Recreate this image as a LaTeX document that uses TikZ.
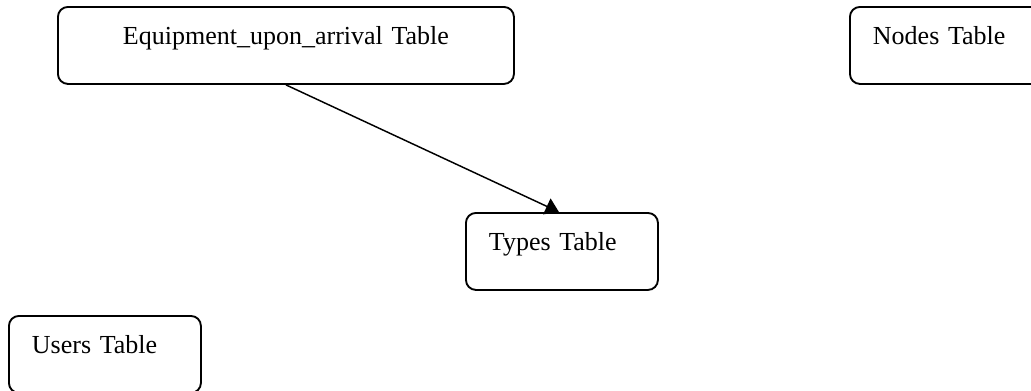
\documentclass[tikz,border=0pt]{standalone}
\usepackage{fontspec}
\setmainfont{Liberation Serif}
\usetikzlibrary{arrows.meta,positioning}

\tikzset{
	tablebox/.style={draw, rounded corners=7.5pt, line width=1.4pt, anchor=north west,
		inner xsep=17.25pt, inner ysep=0pt, text width=#1, align=left,
		text height=28.5pt, text depth=29.25pt, font=\fontsize{19.5pt}{23pt}\selectfont},
	verweis/.style={-{Triangle[length=10pt,width=13pt]}, line width=1.1pt}
}

\begin{document}
\begin{tikzpicture}[x=0.75pt,y=-0.75pt]
	\useasboundingbox (0,0) rectangle (1031,390);
	\node[tablebox=307.5pt, align=center] (equipment) at (57,6) {Equipment\_upon\_arrival Table}
	node[tablebox=109.5pt] (nodes) at (849,6) {Nodes Table}
	node[tablebox=109.5pt] (types) at (465,212) {Types Table}
	node[tablebox=109.5pt] (users) at (8,315) {Users Table};
	\draw[verweis] (equipment.south) -- ([xshift=-2.25pt]types.north);
	
	\end{tikzpicture}
\end{document}
